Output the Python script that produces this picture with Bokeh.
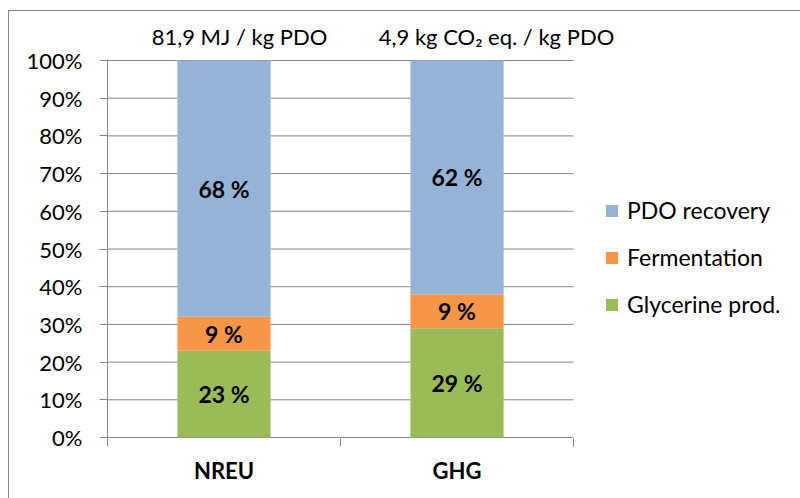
from bokeh.plotting import figure
from bokeh.models import (FixedTicker, Range1d, Legend, LegendItem, LinearAxis,
                          ColumnDataSource, InlineStyleSheet)
from bokeh.embed import file_html
from bokeh.resources import INLINE
from bokeh.core.properties import value

# Share of each process stage in the two impact indicators (%)
categories = ["NREU", "GHG"]
totals = ["81,9 MJ / kg PDO", "4,9 kg CO\u2082 eq. / kg PDO"]
stages = ["Glycerine prod.", "Fermentation", "PDO recovery"]
glycerine = [23, 29]
fermentation = [9, 9]
recovery = [68, 62]
y_ticks = [0, 10, 20, 30, 40, 50, 60, 70, 80, 90, 100]

colors = ["#9BBB59", "#F79646", "#95B3D7"]
FONT = "Lato"
GRID = "#868686"

# canvas and plot-area geometry (pixels)
W, H = 800, 498
PLOT_L, PLOT_R, PLOT_T, PLOT_B = 107, 573, 60, 437
TOTALS_CENTER_PX = [239, 496]               # header text box centres
px_y = 100 / (PLOT_B - PLOT_T)              # one pixel in y units
n = len(categories)
x_per_px = n / (PLOT_R - PLOT_L)
x_end = (W - PLOT_L) * x_per_px             # frame runs on under the legend

x = [i + 0.5 for i in range(n)]
totals_x = [(c - PLOT_L) * x_per_px for c in TOTALS_CENTER_PX]
source = ColumnDataSource(dict(x=x, cat=categories,
                               glycerine=glycerine,
                               fermentation=fermentation,
                               recovery=recovery))

# thin frame around the chart area (left and top edges only show in the window)
frame_css = InlineStyleSheet(css="""
:host { position: relative; }
:host::after {
  content: ""; position: absolute; left: 8px; top: 10px; right: 0; bottom: 0;
  border-left: 1px solid #868686; border-top: 1px solid #868686;
  pointer-events: none;
}
""")

p = figure(width=W, height=H, output_backend="svg", toolbar_location=None,
           x_range=Range1d(0, x_end), y_range=Range1d(-px_y, 100 + px_y),
           min_border_left=PLOT_L, min_border_right=0,
           min_border_top=PLOT_T - 1, min_border_bottom=H - PLOT_B - 1,
           stylesheets=[frame_css])
p.outline_line_color = None
p.background_fill_color = "white"
p.border_fill_color = "white"
p.xgrid.grid_line_color = None
p.ygrid.grid_line_color = None

# horizontal gridlines across the category area only
p.segment(x0=[0] * len(y_ticks), x1=[n] * len(y_ticks), y0=y_ticks, y1=y_ticks,
          line_color=GRID, line_width=1)

keys = ["glycerine", "fermentation", "recovery"]
renderers = p.vbar_stack(keys, x="x", width=0.4, color=colors,
                         line_color=None, source=source)

# value labels centred in each segment
lab_x, lab_y, lab_t = [], [], []
for i, xi in enumerate(x):
    base = 0
    for series in (glycerine, fermentation, recovery):
        v = series[i]
        lab_x.append(xi)
        lab_y.append(base + v / 2)
        lab_t.append(f"{v} %")
        base += v
p.text(x=lab_x, y=lab_y, text=lab_t, text_align="center",
       text_baseline="middle", text_font=value(FONT),
       text_font_style="bold", text_font_size="23px", text_color="black")

# y axis
p.yaxis.ticker = FixedTicker(ticks=y_ticks)
p.yaxis.major_label_overrides = {t: f"{t}%" for t in y_ticks}
p.yaxis.major_label_text_font = FONT
p.yaxis.major_label_text_font_size = "22px"
p.yaxis.major_label_text_color = "black"
p.yaxis.major_label_standoff = 17
p.yaxis.major_tick_out = 8
p.yaxis.major_tick_in = 0
p.yaxis.minor_tick_line_color = None
p.yaxis.axis_line_color = GRID
p.yaxis.major_tick_line_color = GRID

# x axis: labels at bar centres, tick marks at category boundaries
p.xaxis.ticker = FixedTicker(ticks=x, minor_ticks=list(range(n + 1)))
p.xaxis.major_label_overrides = {xi: c for xi, c in zip(x, categories)}
p.xaxis.major_label_text_font = FONT
p.xaxis.major_label_text_font_style = "bold"
p.xaxis.major_label_text_font_size = "22px"
p.xaxis.major_label_text_color = "black"
p.xaxis.major_label_standoff = 10
p.xaxis.major_tick_out = 0
p.xaxis.major_tick_in = 0
p.xaxis.minor_tick_out = 8
p.xaxis.minor_tick_in = 0
p.xaxis.minor_tick_line_color = GRID
p.xaxis.axis_line_color = None

# totals in the header, as labels of a bare top axis
top_axis = LinearAxis(ticker=FixedTicker(ticks=totals_x),
                      major_label_overrides={tx: t for tx, t in zip(totals_x, totals)},
                      major_label_text_font=FONT,
                      major_label_text_font_size="22px",
                      major_label_text_color="black",
                      major_label_standoff=4,
                      axis_line_color=None, major_tick_line_color=None,
                      minor_tick_line_color=None)
p.add_layout(top_axis, "above")

# legend, top entry is the top of the stack
items = [LegendItem(label=stages[k], renderers=[renderers[k]])
         for k in reversed(range(len(stages)))]
legend = Legend(items=items, location=(497, 120), glyph_width=15,
                glyph_height=15, label_height=20, spacing=19,
                label_standoff=8, padding=0, margin=0,
                label_text_font=FONT, label_text_font_size="23px",
                label_text_color="black", border_line_color=None,
                background_fill_alpha=0)
p.add_layout(legend, "center")

open("out.html", "w").write(file_html(p, INLINE))
